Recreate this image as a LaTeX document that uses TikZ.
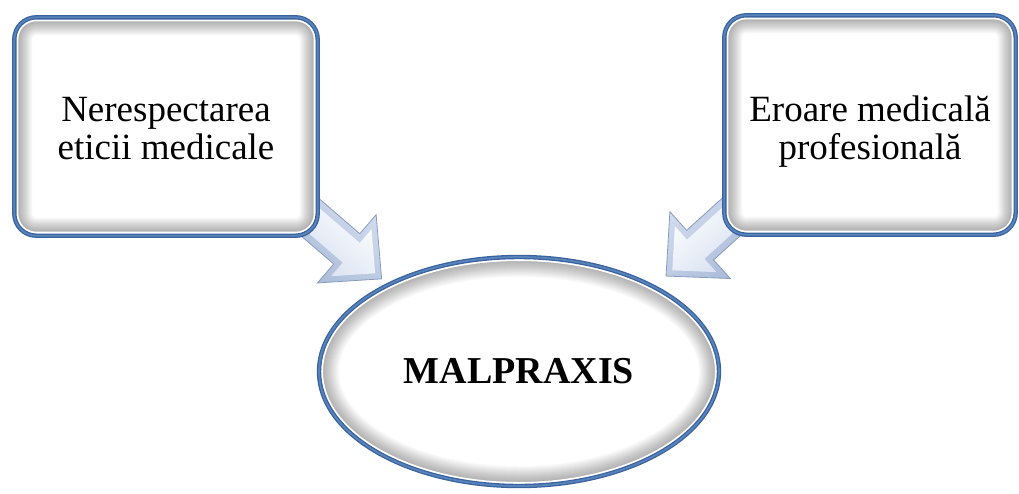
\documentclass[tikz,border=0pt]{standalone}
\usepackage{fontspec}
\setmainfont{Liberation Serif}
\usetikzlibrary{calc,shapes.geometric}
\definecolor{bordout}{RGB}{58,98,158}
\definecolor{bordin}{RGB}{88,132,188}
\definecolor{arrowdark}{RGB}{168,186,215}
\definecolor{arrowmid}{RGB}{212,222,240}
\definecolor{arrowedge}{RGB}{138,156,190}
\tikzset{
  border/.style={draw=bordout, line width=1.3pt, double=bordin, double distance=1.8pt},
  boxnode/.style={border, rounded corners=22pt, fill=white, inner sep=0pt,
    path picture={
      \foreach \k in {1,...,14}
        \draw[line width={2*(4+\k)*1pt}, black, opacity=0.022, rounded corners=22pt]
          (path picture bounding box.south west) rectangle (path picture bounding box.north east);
      \draw[line width=8pt, white, rounded corners=22pt]
          (path picture bounding box.south west) rectangle (path picture bounding box.north east);
    }},
  boxtext/.style={font=\fontsize{37pt}{38pt}\selectfont, align=center, inner sep=0pt},
  ellnode/.style={border, ellipse, fill=white, inner sep=0pt,
    minimum width=400pt, minimum height=229pt,
    font=\bfseries\fontsize{38pt}{40pt}\selectfont,
    path picture={
      \foreach \k in {1,...,16}
        \draw[line width={2*(4+\k)*1pt}, black, opacity=0.02]
          (path picture bounding box.center) ellipse [x radius=200pt, y radius=114.5pt];
      \draw[line width=8pt, white]
          (path picture bounding box.center) ellipse [x radius=200pt, y radius=114.5pt];
    }},
  arrowouter/.style={draw=arrowedge, line width=0.8pt, line join=miter, top color=arrowmid, bottom color=arrowdark},
  arrowinner/.style={top color=white, bottom color=arrowmid, line join=miter}
}
% #1 tail, #2 tip, #3 prefix, #4 shading angle
\newcommand\blockarr[4]{%
  \coordinate (#3b) at ($(#2)!46pt!(#1)$);
  \path[arrowouter, shading angle=#4]
    ($(#1)!20pt!90:(#2)$) -- ($(#3b)!20pt!90:(#2)$) -- ($(#3b)!45pt!90:(#2)$) -- (#2)
    -- ($(#3b)!45pt!-90:(#2)$) -- ($(#3b)!20pt!-90:(#2)$) -- ($(#1)!20pt!-90:(#2)$) -- cycle;
  \coordinate (#3t) at ($(#2)!8.5pt!(#1)$);
  \coordinate (#3c) at ($(#3t)!31.5pt!(#1)$);
  \path[arrowinner, shading angle=#4]
    ($(#1)!13pt!90:(#2)$) -- ($(#3c)!13pt!90:(#2)$) -- ($(#3c)!31pt!90:(#2)$) -- (#3t)
    -- ($(#3c)!31pt!-90:(#2)$) -- ($(#3c)!13pt!-90:(#2)$) -- ($(#1)!13pt!-90:(#2)$) -- cycle;
}
\begin{document}
\begin{tikzpicture}[x=1pt, y=-1pt]
  \useasboundingbox (0,0) rectangle (1019,493);
  \path (519,371.5) coordinate (ellc);
  \path (166,126.5) coordinate (boxLc);
  \path (870,125) coordinate (boxRc);
  % invisible placeholders for geometry of connectors
  \node[ellipse, minimum width=400pt, minimum height=229pt, inner sep=0pt] (ellg) at (ellc) {};
  \node[rectangle, minimum width=303.4pt, minimum height=218.4pt, inner sep=0pt] (boxLg) at (boxLc) {};
  \node[rectangle, minimum width=291.4pt, minimum height=219.4pt, inner sep=0pt] (boxRg) at (boxRc) {};
  \coordinate (tailL) at ($(boxLg.south east)+(-28,-36)$);
  \coordinate (tipL) at ($(ellg.center)!1.06!(ellg.146.5)$);
  \coordinate (tailR) at ($(boxRg.south west)+(26,-35)$);
  \coordinate (tipR) at ($(ellg.center)!1.11!(ellg.33.5)$);
  \blockarr{tailL}{tipL}{aL}{-41}
  \blockarr{tailR}{tipR}{aR}{41}
  % visible nodes
  \node[boxnode, minimum width=303.4pt, minimum height=218.4pt,
        label={[boxtext, yshift=-2pt]center:Nerespectarea\\eticii medicale}] (boxL) at (boxLc) {};
  \node[boxnode, minimum width=291.4pt, minimum height=219.4pt,
        label={[boxtext, yshift=-7pt]center:Eroare medicală\\profesională}] (boxR) at (boxRc) {};
  \node[ellnode] (ell) at (ellc) {\raisebox{-2pt}{MALPRAXIS}};
\end{tikzpicture}
\end{document}
